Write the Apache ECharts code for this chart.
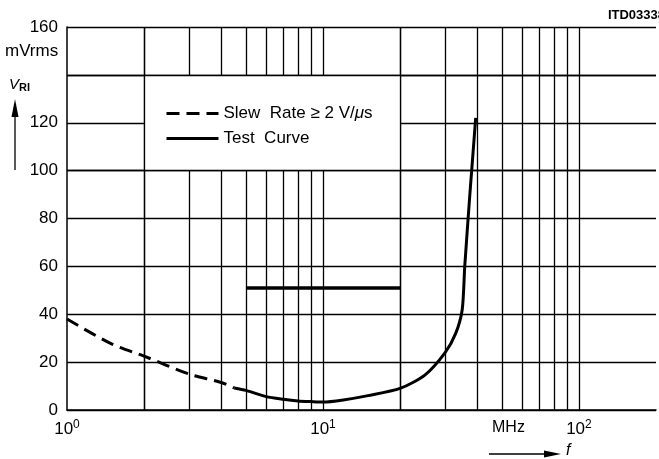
<!DOCTYPE html>
<html>
<head>
<meta charset="utf-8">
<script src="https://cdn.jsdelivr.net/npm/echarts@6/dist/echarts.min.js"></script>
<style>
  html, body { margin: 0; padding: 0; background: #fff; }
  #chart { width: 659px; height: 459px; }
</style>
</head>
<body>
<div id="chart"></div>
<script>
// frequency in MHz, level in mVrms
const slewFreq = [1, 1.5, 2, 3, 4, 4.5];
const slewLevel = [38, 27.5, 22.5, 15, 11.5, 9.2];
const testFreq = [4.5, 5, 6, 7, 8, 9, 10, 12, 15, 20, 25, 30, 33, 35, 35.8, 37.3, 38.1, 39.5];
const testLevel = [9.2, 8.2, 5.6, 4.5, 3.8, 3.5, 3.3, 4.2, 6, 9, 14.6, 24, 32, 42, 60, 87, 100, 122];
const limitFreq = [5, 20];
const limitLevel = [51, 51];
const gridFreqs = [2, 3, 4, 5, 6, 7, 8, 9, 10, 20, 30, 40, 50, 60, 70, 80, 90, 100];
const boxFreqs = [2, 20];
const boxLevels = [100, 140];
const yTicks = [0, 20, 40, 60, 80, 100, 120, 140, 160];
const hiddenYLabels = [140]; // unit label sits there instead

const FONT = "'Liberation Sans Narrow', 'Liberation Sans', Arial, sans-serif";
const pairs = (xs, ys) => xs.map((x, i) => [x, ys[i]]);

let myChart = echarts.init(document.getElementById('chart'));

let option = {
    animation: false,
    textStyle: { fontFamily: FONT, color: '#000' },
    grid: { left: 67, right: 0, top: 27, bottom: 49 },
    legend: {
        data: ['Slew Rate', 'Test Curve'],
        orient: 'vertical',
        left: 165,
        top: 105,
        padding: 0,
        itemWidth: 52,
        itemHeight: 14,
        itemGap: 8,
        selectedMode: false,
        itemStyle: { opacity: 0 },
        lineStyle: { width: 3 },
        formatter: function (name) {
            return name === 'Slew Rate' ? 'Slew  Rate \u2265 2 V/{i|\u03bc}s' : 'Test  Curve';
        },
        textStyle: {
            fontFamily: FONT, fontSize: 17, color: '#000',
            rich: { i: { fontFamily: FONT, fontSize: 17, fontStyle: 'italic', color: '#000' } }
        }
    },
    xAxis: {
        type: 'log',
        logBase: 10,
        min: 1,
        max: 200,
        axisLine: { show: true, lineStyle: { color: '#000', width: 1.5 } },
        axisTick: { show: false },
        splitLine: { show: false },
        axisLabel: {
            color: '#000',
            fontSize: 17,
            fontFamily: FONT,
            margin: 9,
            formatter: function (v) {
                const e = Math.log10(v);
                if (Math.abs(e - Math.round(e)) > 1e-6) return '';
                return '10{s|' + Math.round(e) + '}';
            },
            rich: { s: { fontSize: 12, fontFamily: FONT, color: '#000', verticalAlign: 'top', padding: [0, 0, 9, 0] } }
        }
    },
    yAxis: {
        type: 'value',
        min: yTicks[0],
        max: yTicks[yTicks.length - 1],
        interval: 20,
        axisLine: { show: true, lineStyle: { color: '#000', width: 1.5 } },
        axisTick: { show: false },
        axisLabel: {
            color: '#000', fontSize: 17, fontFamily: FONT, margin: 9,
            formatter: v => hiddenYLabels.indexOf(v) >= 0 ? '' : String(v)
        },
        splitLine: { show: true, lineStyle: { color: '#000', width: 1.3 } }
    },
    graphic: [
        { type: 'text', left: 5, top: 43, style: { text: 'mVrms', font: '17px ' + FONT, fill: '#000' } },
        { type: 'text', left: 9, top: 77, style: {
            text: '{v|V}{s|RI}', fill: '#000',
            rich: {
                v: { font: 'italic 15px ' + FONT, fill: '#000' },
                s: { font: 'bold 11px ' + FONT, fill: '#000', verticalAlign: 'bottom', padding: [6, 0, 0, 0] }
            }
        } },
        { type: 'line', shape: { x1: 15, y1: 114, x2: 15, y2: 170 }, style: { stroke: '#000', lineWidth: 1.3 } },
        { type: 'polygon', shape: { points: [[15, 99], [11.5, 117], [18.5, 117]] }, style: { fill: '#000' } },
        { type: 'text', left: 492, top: 420, style: { text: 'MHz', font: '16px ' + FONT, fill: '#000' } },
        { type: 'line', shape: { x1: 489, y1: 454, x2: 548, y2: 454 }, style: { stroke: '#000', lineWidth: 1.3 } },
        { type: 'polygon', shape: { points: [[561, 454], [544, 450.5], [544, 457.5]] }, style: { fill: '#000' } },
        { type: 'text', left: 566, top: 443, style: { text: 'f', font: 'italic 16px ' + FONT, fill: '#000' } },
        { type: 'text', right: -6, top: 9, style: { text: 'ITD03338', font: 'bold 13px ' + FONT, fill: '#000' } }
    ],
    series: [
        {
            name: 'grid',
            type: 'line',
            data: [],
            silent: true,
            markLine: {
                silent: true,
                z: 1,
                symbol: 'none',
                label: { show: false },
                lineStyle: { color: '#000', width: 1.3, type: 'solid' },
                data: gridFreqs.map(f => ({ xAxis: f }))
            }
        },
        {
            name: 'boxEdges',
            type: 'line',
            data: [],
            silent: true,
            markLine: {
                silent: true,
                z: 3,
                symbol: 'none',
                label: { show: false },
                lineStyle: { color: '#000', width: 1.3, type: 'solid' },
                data: boxFreqs.map(f => ({ xAxis: f })).concat(boxLevels.map(v => ({ yAxis: v })))
            }
        },
        {
            name: 'Slew Rate',
            type: 'line',
            z: 4,
            showSymbol: false,
            symbol: 'none',
            smooth: 0.3,
            data: pairs(slewFreq, slewLevel),
            lineStyle: { color: '#000', width: 3, type: [13, 7] },
            itemStyle: { color: '#000' }
        },
        {
            name: 'Test Curve',
            type: 'line',
            z: 4,
            showSymbol: false,
            symbol: 'none',
            smooth: 0.25,
            data: pairs(testFreq, testLevel),
            lineStyle: { color: '#000', width: 3, type: 'solid' },
            itemStyle: { color: '#000' }
        },
        {
            name: 'Limit',
            type: 'line',
            z: 4,
            showSymbol: false,
            symbol: 'none',
            data: pairs(limitFreq, limitLevel),
            lineStyle: { color: '#000', width: 3.5 },
            itemStyle: { color: '#000' },
            markArea: {
                silent: true,
                z: 2,
                itemStyle: { color: '#fff', opacity: 1 },
                data: [[{ xAxis: boxFreqs[0], yAxis: boxLevels[1] }, { xAxis: boxFreqs[1], yAxis: boxLevels[0] }]]
            }
        }
    ]
};
myChart.setOption(option);
</script>
</body>
</html>
